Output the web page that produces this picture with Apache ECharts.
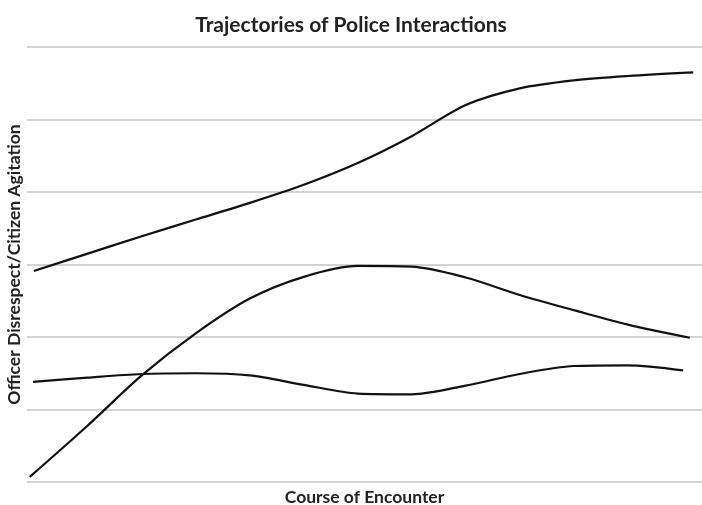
<!DOCTYPE html>
<html>
<head>
<meta charset="utf-8">
<script src="https://cdn.jsdelivr.net/npm/echarts@6/dist/echarts.min.js"></script>
<style>html,body{margin:0;padding:0;background:#fff}#c{width:702px;height:505px}</style>
</head>
<body>
<div id="c"></div>
<script>
var titleText = 'Trajectories of Police Interactions';
var xName = 'Course of Encounter';
var yName = 'Officer Disrespect/Citizen Agitation';

// Rising trajectory
var xA = [1, 9, 17, 25, 33, 41, 49, 57, 65, 73, 81, 89, 98.7];
var yA = [2.91, 3.15, 3.39, 3.62, 3.85, 4.10, 4.40, 4.77, 5.20, 5.43, 5.54, 5.60, 5.65];
// Hump trajectory
var xB = [0.4, 9, 17, 25, 33, 41, 49, 57, 65, 73, 81, 89, 98.2];
var yB = [0.07, 0.78, 1.47, 2.05, 2.53, 2.83, 2.98, 2.97, 2.82, 2.58, 2.37, 2.17, 1.99];
// Flat trajectory
var xC = [0.9, 9, 17, 25, 33, 41, 49, 57, 65, 73, 81, 89, 97.2];
var yC = [1.38, 1.44, 1.49, 1.50, 1.47, 1.34, 1.22, 1.21, 1.33, 1.49, 1.60, 1.61, 1.54];

function pairs(xs, ys) { return xs.map(function (x, i) { return [x, ys[i]]; }); }

var chart = echarts.init(document.getElementById('c'), null, {renderer: 'canvas'});
function mk(xs, ys) {
  return {type: 'line', data: pairs(xs, ys), smooth: 0.3, showSymbol: false, symbol: 'none',
    lineStyle: {color: '#111', width: 2.2}, itemStyle: {color: '#111'}, animation: false};
}
chart.setOption({
  animation: false,
  title: {text: titleText, left: 'center', top: 10,
    textStyle: {fontFamily: 'Lato', fontWeight: 'bold', fontSize: 21, color: '#222'}},
  grid: {left: 27, right: 0, top: 47, bottom: 23, containLabel: false, outerBoundsMode: 'none'},
  xAxis: {type: 'value', min: 0, max: 100,
    name: xName, nameLocation: 'middle', nameGap: 6,
    nameTextStyle: {fontFamily: 'Lato', fontWeight: 'bold', fontSize: 17.5, color: '#222', verticalAlign: 'top'},
    axisLine: {show: false}, axisTick: {show: false}, axisLabel: {show: false}, splitLine: {show: false}},
  yAxis: {type: 'value', min: 0, max: 6, interval: 1,
    name: yName, nameLocation: 'middle', nameGap: 4, nameRotate: 90,
    nameTextStyle: {fontFamily: 'Lato', fontWeight: 'bold', fontSize: 17.5, color: '#222'},
    axisLine: {show: false}, axisTick: {show: false}, axisLabel: {show: false},
    splitLine: {show: true, lineStyle: {color: '#c4c4c4', width: 1.5}}},
  series: [mk(xA, yA), mk(xB, yB), mk(xC, yC)]
});
</script>
</body>
</html>
